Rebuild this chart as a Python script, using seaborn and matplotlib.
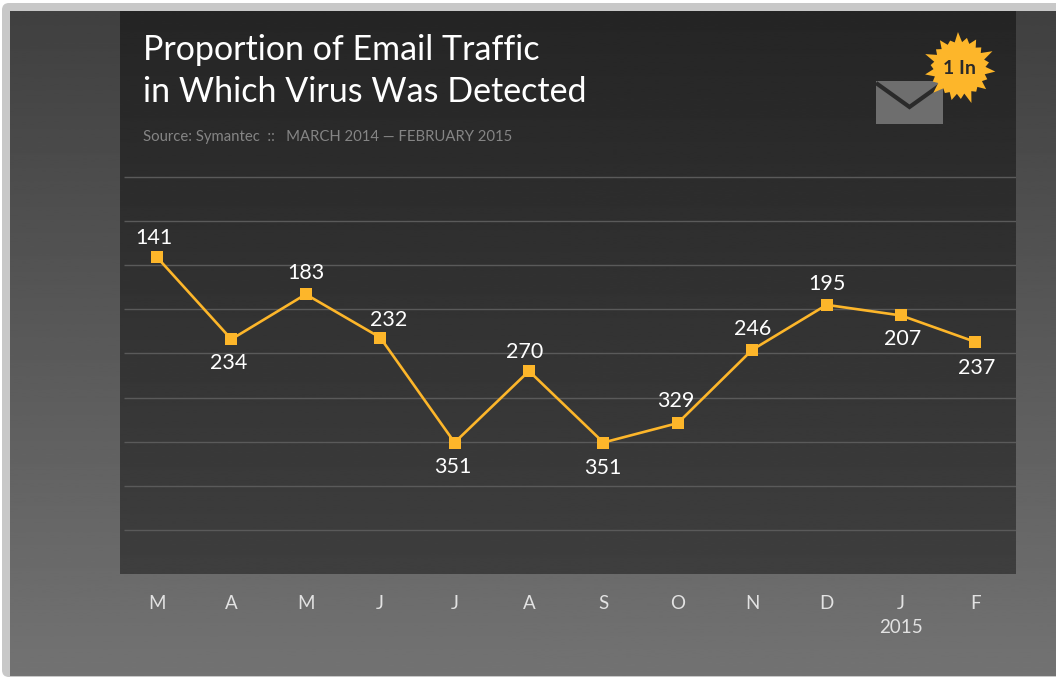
import numpy as np
import pandas as pd
import seaborn as sns
import matplotlib.pyplot as plt
from matplotlib.patches import Polygon, Rectangle, FancyBboxPatch
from matplotlib.transforms import blended_transform_factory

sns.set_theme(style="dark")
plt.rcParams['font.family'] = ['Lato', 'DejaVu Sans']

# Dados do grafico
months = ["M", "A", "M ", "J", "J ", "A ", "S", "O", "N", "D", "J  ", "F"]
tick_labels = ["M", "A", "M", "J", "J", "A", "S", "O", "N", "D", "J\n2015", "F"]
one_in = [141, 234, 183, 232, 351, 270, 351, 329, 246, 195, 207, 237]
grid_values = [50, 100, 150, 200, 250, 300, 350, 400, 450]

# Deslocamento dos rotulos em pixels (dx, dy)
label_offsets = [(-3, 19), (-3, -24), (0, 21), (8, 18), (-2, -24), (-4, 19),
                 (-1, -25), (-2, 22), (0, 21), (0, 21), (2, -24), (1, -26)]

YELLOW = "#fdb62a"
W, H = 1056, 678

df = pd.DataFrame({"month": months, "x": range(len(months)), "one_in": one_in})

fig = plt.figure(figsize=(W / 100, H / 100), dpi=100)

# Fundo e moldura, em coordenadas de pixel
bg = fig.add_axes([0, 0, 1, 1], zorder=0)
bg.set_xlim(0, W)
bg.set_ylim(H, 0)
bg.axis("off")
bg.add_patch(Rectangle((0, 0), W, H, color="white", zorder=0))
bg.add_patch(FancyBboxPatch((2, 3), W + 40, H - 4, boxstyle="round,pad=0,rounding_size=7",
                            fc="#c8c8c8", ec="none", zorder=1))
grad = np.linspace(0.25, 0.45, 256).reshape(-1, 1)
bg.imshow(grad, cmap="gray", vmin=0, vmax=1, extent=(10, W, 676, 11), aspect="auto", zorder=2)
bg.set_xlim(0, W)
bg.set_ylim(H, 0)

# Painel escuro
ax = fig.add_axes([120 / W, 1 - 574 / H, 896 / W, 563 / H], zorder=1)
ax.set_facecolor("none")
panel = np.linspace(0.145, 0.245, 256).reshape(-1, 1)
ax.imshow(panel, cmap="gray", vmin=0, vmax=1, extent=(-0.497, 11.546, 500, -138),
          aspect="auto", zorder=0)

trans = blended_transform_factory(ax.transAxes, ax.transData)
ax.hlines(grid_values, 0.005, 1, color="#5a5a5a", lw=1.0, transform=trans, zorder=1)

sns.lineplot(data=df, x="x", y="one_in", ax=ax, color=YELLOW, lw=1.9, marker="s", ms=8.6,
             mew=0, zorder=3, errorbar=None, sort=False)

for x, v, (dx, dy) in zip(df["x"], one_in, label_offsets):
    ax.annotate(str(v), (x, v), xytext=(dx * 0.72, dy * 0.72), textcoords="offset points",
                ha="center", va="center", color="white", fontsize=15.5, zorder=4)

ax.set_xlim(-0.497, 11.546)
ax.set_ylim(500, -138)
ax.set_xticks(df["x"])
ax.set_xticklabels(tick_labels, color="#e2e2e2", fontsize=13.5, linespacing=1.5)
ax.tick_params(axis="x", length=0, pad=15)
ax.set_yticks([])
ax.set_xlabel("")
ax.set_ylabel("")
ax.grid(False)
for s in ax.spines.values():
    s.set_visible(False)

# Titulo e fonte
over = fig.add_axes([0, 0, 1, 1], zorder=2)
over.set_xlim(0, W)
over.set_ylim(H, 0)
over.axis("off")
over.patch.set_alpha(0)
over.text(143, 50, "Proportion of Email Traffic", color="white", fontsize=24.5, va="center")
over.text(143, 92, "in Which Virus Was Detected", color="white", fontsize=24.5, va="center")
over.text(143, 137, "Source: Symantec  ::   MARCH 2014 \u2014 FEBRUARY 2015", color="#858585",
          fontsize=10.7, va="center")

# Envelope
over.add_patch(Rectangle((876, 81), 67, 43, color="#6e6e6e", lw=0, zorder=2))
over.plot([876, 909.5, 943], [83, 107, 83], color="#2a2a2a", lw=3, zorder=3,
          solid_joinstyle="miter", solid_capstyle="butt")

# Selo "1 In"
spikes = [36, 30, 34, 29, 37, 31, 33, 29, 36, 30, 35, 29, 37, 30, 34, 29, 36, 31, 33, 30, 37, 30]
cx, cy = 959.5, 68
pts = []
n = len(spikes)
for i, r in enumerate(spikes):
    a = 2 * np.pi * i / n + 0.1
    pts.append((cx + r * np.cos(a), cy + r * np.sin(a)))
    a2 = a + np.pi / n
    pts.append((cx + 26 * np.cos(a2), cy + 26 * np.sin(a2)))
over.add_patch(Polygon(pts, closed=True, fc=YELLOW, ec="none", zorder=4))
over.text(cx, cy, "1 In", color="#2a2a2a", fontsize=14, fontweight="bold",
          ha="center", va="center", zorder=5)

fig.savefig("out.png", dpi=100)
